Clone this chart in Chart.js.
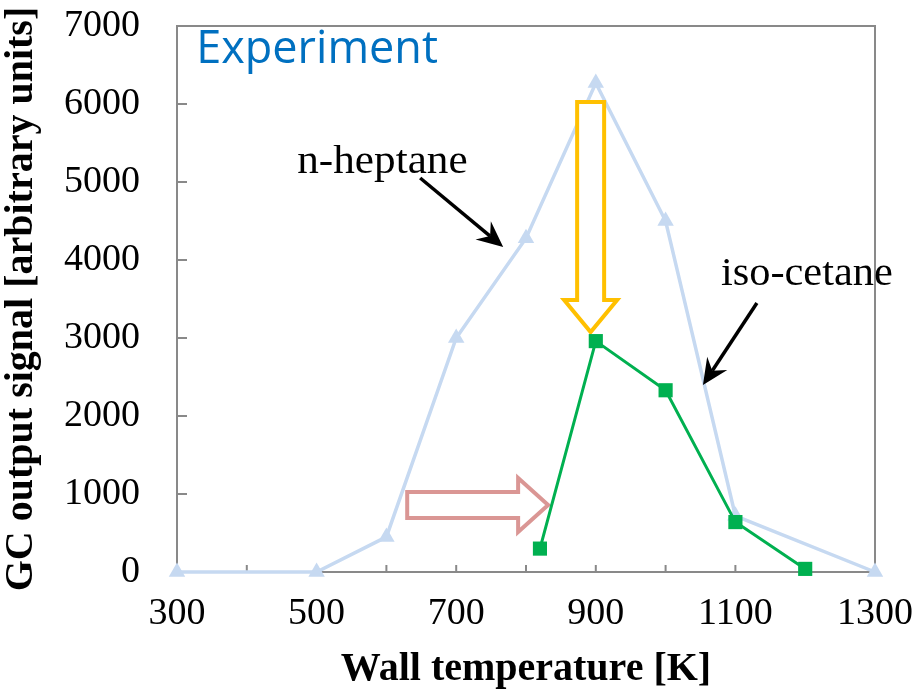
<!DOCTYPE html>
<html><head><meta charset="utf-8">
<script src="https://cdn.jsdelivr.net/npm/chart.js@4/dist/chart.umd.min.js"></script>
<style>html,body{margin:0;padding:0;background:#fff;}canvas{display:block;}</style>
</head><body>
<canvas id="c" width="917" height="698"></canvas>
<script>
// ---- data ----
const nHeptaneTemps  = [300, 500, 600, 700, 800, 900, 1000, 1100, 1300];
const nHeptaneSignal = [0, 0, 450, 3000, 4280, 6270, 4500, 720, 0];
const isoCetaneTemps  = [820, 900, 1000, 1100, 1200];
const isoCetaneSignal = [300, 2960, 2330, 640, 40];
const xTickLabels = [300, 500, 700, 900, 1100, 1300];
const yTickLabels = [0, 1000, 2000, 3000, 4000, 5000, 6000, 7000];
const seriesNames = ['n-heptane', 'iso-cetane'];
const panelTag = 'Experiment';
const xTitle = 'Wall temperature [K]';
const yTitle = 'GC output signal [arbitrary units]';

const toPts = (xs, ys) => xs.map((x, i) => ({x, y: ys[i]}));
const SERIF = '"Liberation Serif", "Times New Roman", serif';
const GRAY = '#898989';

const framePlugin = {
  id: 'frame',
  beforeDatasetsDraw(chart) {
    const {ctx, chartArea: a, scales: {x, y}} = chart;
    ctx.save();
    ctx.strokeStyle = GRAY; ctx.lineWidth = 2;
    ctx.strokeRect(a.left, a.top, a.right - a.left, a.bottom - a.top);
    ctx.beginPath();
    x.ticks.forEach(t => { const p = x.getPixelForValue(t.value); ctx.moveTo(p, a.bottom); ctx.lineTo(p, a.bottom - 7); });
    y.ticks.forEach(t => { const p = y.getPixelForValue(t.value); ctx.moveTo(a.left, p); ctx.lineTo(a.left + 10, p); });
    ctx.stroke();
    ctx.restore();
  }
};

function blockArrowDown(ctx, cx, top, tip, shaftHalf, headHalf, headLen) {
  const sb = tip - headLen;
  ctx.beginPath();
  ctx.moveTo(cx - shaftHalf, top); ctx.lineTo(cx + shaftHalf, top); ctx.lineTo(cx + shaftHalf, sb);
  ctx.lineTo(cx + headHalf, sb); ctx.lineTo(cx, tip); ctx.lineTo(cx - headHalf, sb);
  ctx.lineTo(cx - shaftHalf, sb); ctx.closePath();
}
function blockArrowRight(ctx, left, tip, cy, shaftHalf, headHalf, headLen) {
  const sb = tip - headLen;
  ctx.beginPath();
  ctx.moveTo(left, cy - shaftHalf); ctx.lineTo(sb, cy - shaftHalf); ctx.lineTo(sb, cy - headHalf);
  ctx.lineTo(tip, cy); ctx.lineTo(sb, cy + headHalf); ctx.lineTo(sb, cy + shaftHalf);
  ctx.lineTo(left, cy + shaftHalf); ctx.closePath();
}
function lineArrow(ctx, x1, y1, x2, y2) {
  const ang = Math.atan2(y2 - y1, x2 - x1);
  const L = 26, W = 12, notch = 9;
  const bx = x2 - Math.cos(ang) * (L - notch), by = y2 - Math.sin(ang) * (L - notch);
  ctx.beginPath(); ctx.moveTo(x1, y1); ctx.lineTo(bx, by); ctx.stroke();
  const cx = x2 - Math.cos(ang) * L, cy = y2 - Math.sin(ang) * L;
  const nx = -Math.sin(ang), ny = Math.cos(ang);
  ctx.beginPath();
  ctx.moveTo(x2, y2);
  ctx.lineTo(cx + nx * W, cy + ny * W);
  ctx.lineTo(bx, by);
  ctx.lineTo(cx - nx * W, cy - ny * W);
  ctx.closePath(); ctx.fill();
}
function stretchedText(ctx, txt, x, y, font, sx, color) {
  ctx.save();
  ctx.font = font; ctx.fillStyle = color; ctx.textBaseline = 'alphabetic'; ctx.textAlign = 'left';
  ctx.translate(x, y); ctx.scale(sx, 1); ctx.fillText(txt, 0, 0);
  ctx.restore();
}

const blockArrowPlugin = {
  id: 'blockArrows',
  beforeDatasetDraw(chart, args) {
    if (args.index !== 0) return;
    const {ctx, scales: {x, y}} = chart;
    ctx.save();
    ctx.lineWidth = 4; ctx.lineJoin = 'miter'; ctx.fillStyle = '#fff';
    blockArrowDown(ctx, x.getPixelForValue(892.6), y.getPixelForValue(6026), y.getPixelForValue(3077), 13.5, 26.5, 32);
    ctx.fill(); ctx.strokeStyle = '#FFC000'; ctx.stroke();
    blockArrowRight(ctx, x.getPixelForValue(629.8), x.getPixelForValue(831.7), y.getPixelForValue(859), 13, 27, 30);
    ctx.fill(); ctx.strokeStyle = '#DA9694'; ctx.stroke();
    ctx.restore();
  }
};

const labelPlugin = {
  id: 'labels',
  afterDatasetsDraw(chart) {
    const {ctx, scales: {x, y}} = chart;
    ctx.save();
    ctx.strokeStyle = '#000'; ctx.fillStyle = '#000'; ctx.lineWidth = 3.5;
    lineArrow(ctx, x.getPixelForValue(648.4), y.getPixelForValue(5051), x.getPixelForValue(767.3), y.getPixelForValue(4167));
    lineArrow(ctx, x.getPixelForValue(1130.8), y.getPixelForValue(3449), x.getPixelForValue(1053.5), y.getPixelForValue(2397));
    ctx.restore();
    stretchedText(ctx, seriesNames[0], x.getPixelForValue(472.3), y.getPixelForValue(5115), '40px ' + SERIF, 1.08, '#000');
    stretchedText(ctx, seriesNames[1], x.getPixelForValue(1079.3), y.getPixelForValue(3679), '40px ' + SERIF, 1.06, '#000');
    stretchedText(ctx, panelTag, x.getPixelForValue(327.6), y.getPixelForValue(6526), '45px "Open Sans", sans-serif', 1, '#0070C0');
  }
};

new Chart(document.getElementById('c'), {
  type: 'line',
  data: {
    datasets: [
      {
        label: seriesNames[1], data: toPts(isoCetaneTemps, isoCetaneSignal),
        borderColor: '#00B050', backgroundColor: '#00B050', borderWidth: 3,
        pointStyle: 'rect', pointRadius: 10, pointBorderWidth: 0, tension: 0, clip: false
      },
      {
        label: seriesNames[0], data: toPts(nHeptaneTemps, nHeptaneSignal),
        borderColor: '#C6D9F1', backgroundColor: '#C6D9F1', borderWidth: 3.5,
        pointStyle: 'triangle', pointRadius: 9.5, pointBorderWidth: 0, tension: 0, clip: false
      }
    ]
  },
  options: {
    responsive: false, animation: false,
    layout: {padding: {top: 26, right: 42, bottom: 0, left: 0}},
    plugins: {legend: {display: false}, tooltip: {enabled: false}},
    scales: {
      x: {
        type: 'linear', min: 300, max: 1300,
        grid: {display: false, drawTicks: false}, border: {display: false},
        ticks: {
          stepSize: 100, padding: 19, color: '#000', font: {family: SERIF, size: 38},
          maxRotation: 0, autoSkip: false,
          callback: v => xTickLabels.includes(v) ? String(v) : ''
        },
        title: {display: true, text: xTitle, color: '#000', padding: {top: 0, bottom: 6},
                font: {family: SERIF, size: 40, weight: 'bold', lineHeight: 1.1}},
        afterFit: s => { s.height = 126; s.paddingLeft = 0; s.paddingRight = 0; }
      },
      y: {
        min: 0, max: 7000,
        grid: {display: false, drawTicks: false}, border: {display: false},
        ticks: {
          stepSize: 1000, padding: 37, color: '#000', font: {family: SERIF, size: 38},
          callback: v => yTickLabels.includes(v) ? String(v) : ''
        },
        title: {display: true, text: yTitle, color: '#000', padding: {top: 0, bottom: 0},
                font: {family: SERIF, size: 40, weight: 'bold', lineHeight: 1.1}},
        afterFit: s => { s.width = 177; s.paddingTop = 0; s.paddingBottom = 0; }
      }
    }
  },
  plugins: [framePlugin, blockArrowPlugin, labelPlugin]
});
</script>
</body></html>
